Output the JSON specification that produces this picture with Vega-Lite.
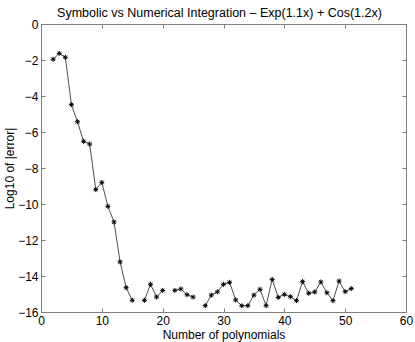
{
  "$schema": "https://vega.github.io/schema/vega-lite/v6.json",
  "autosize": "none",
  "width": 365,
  "height": 288,
  "padding": {"left": 41, "top": 24, "right": 9, "bottom": 30},
  "background": "white",
  "title": {"text": "Symbolic vs Numerical Integration – Exp(1.1x) + Cos(1.2x)", "font": "Liberation Sans", "fontSize": 12.5, "fontWeight": "normal", "color": "black", "offset": 0, "anchor": "middle", "dx": -4, "dy": 1},
  "config": {
    "view": {"stroke": null},
    "axis": {"domainColor": "#808080", "tickColor": "#808080", "labelFont": "Liberation Sans", "titleFont": "Liberation Sans", "labelFontSize": 12, "titleFontSize": 12, "titleFontWeight": "normal", "labelColor": "black", "titleColor": "black", "grid": false, "tickSize": -4}
  },
  "data": {"values": [
    {"n": 2, "err": -1.96}, {"n": 3, "err": -1.63}, {"n": 4, "err": -1.85}, {"n": 5, "err": -4.48},
    {"n": 6, "err": -5.43}, {"n": 7, "err": -6.52}, {"n": 8, "err": -6.67}, {"n": 9, "err": -9.2},
    {"n": 10, "err": -8.8}, {"n": 11, "err": -10.13}, {"n": 12, "err": -11.0}, {"n": 13, "err": -13.22},
    {"n": 14, "err": -14.65}, {"n": 15, "err": -15.35}, {"n": 16, "err": null}, {"n": 17, "err": -15.35},
    {"n": 18, "err": -14.46}, {"n": 19, "err": -15.17}, {"n": 20, "err": -14.8}, {"n": 21, "err": null},
    {"n": 22, "err": -14.8}, {"n": 23, "err": -14.72}, {"n": 24, "err": -15.04}, {"n": 25, "err": -15.17},
    {"n": 26, "err": null}, {"n": 27, "err": -15.65}, {"n": 28, "err": -15.06}, {"n": 29, "err": -14.88},
    {"n": 30, "err": -14.46}, {"n": 31, "err": -14.35}, {"n": 32, "err": -15.33}, {"n": 33, "err": -15.65},
    {"n": 34, "err": -15.65}, {"n": 35, "err": -15.06}, {"n": 36, "err": -14.74}, {"n": 37, "err": -15.65},
    {"n": 38, "err": -14.19}, {"n": 39, "err": -15.19}, {"n": 40, "err": -15.02}, {"n": 41, "err": -15.15},
    {"n": 42, "err": -15.37}, {"n": 43, "err": -14.31}, {"n": 44, "err": -14.96}, {"n": 45, "err": -14.89},
    {"n": 46, "err": -14.33}, {"n": 47, "err": -14.93}, {"n": 48, "err": -15.37}, {"n": 49, "err": -14.28},
    {"n": 50, "err": -14.87}, {"n": 51, "err": -14.7}
  ]},
  "layer": [
    {
      "mark": {"type": "line", "color": "black", "strokeWidth": 0.7, "invalid": "break-paths-filter-domains"},
      "encoding": {
        "x": {"field": "n", "type": "quantitative", "scale": {"domain": [0, 60], "nice": false, "zero": false},
              "axis": {"title": "Number of polynomials", "values": [0, 10, 20, 30, 40, 50, 60], "labelPadding": 7, "titlePadding": 3, "labelFlush": false}},
        "y": {"field": "err", "type": "quantitative", "scale": {"domain": [-16, 0], "nice": false, "zero": false},
              "axis": {"title": "Log10 of |error|", "values": [-16, -14, -12, -10, -8, -6, -4, -2, 0], "labelPadding": 7, "titlePadding": 1, "labelFlush": false}}
      }
    },
    {
      "mark": {"type": "point", "shape": "M-1,0H1M0,-1V1M-0.7,-0.7L0.7,0.7M-0.7,0.7L0.7,-0.7", "size": 25, "filled": false, "color": "black", "strokeWidth": 1, "opacity": 1},
      "encoding": {
        "x": {"field": "n", "type": "quantitative",
              "axis": {"orient": "top", "title": null, "labels": false, "values": [0, 10, 20, 30, 40, 50, 60]}},
        "y": {"field": "err", "type": "quantitative",
              "axis": {"orient": "right", "title": null, "labels": false, "values": [-16, -14, -12, -10, -8, -6, -4, -2, 0]}}
      }
    }
  ],
  "resolve": {"axis": {"x": "independent", "y": "independent"}}
}
